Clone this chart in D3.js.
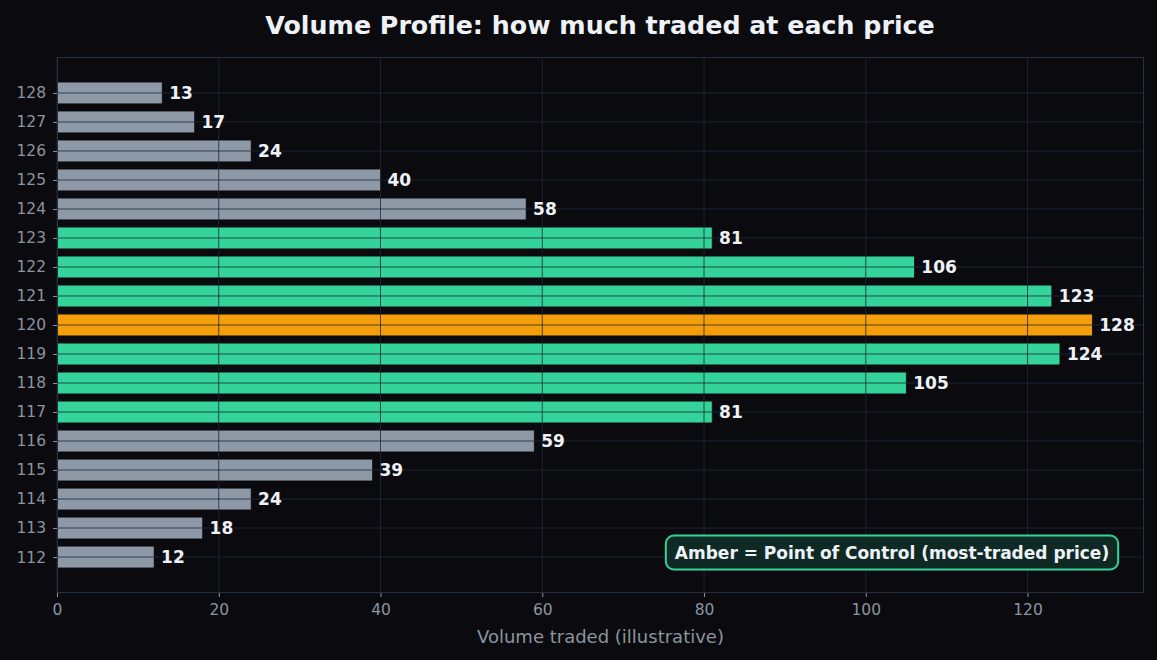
<!DOCTYPE html>
<html>
<head>
<meta charset="utf-8">
<script src="https://cdn.jsdelivr.net/npm/d3@7"></script>
<style>
  body { margin: 0; background: #0b0b0f; }
  svg { display: block; font-family: "DejaVu Sans", sans-serif; }
</style>
</head>
<body>
<svg id="chart" width="1157" height="660"></svg>
<script>
// price levels and the volume traded at each one
const prices = [112, 113, 114, 115, 116, 117, 118, 119, 120, 121, 122, 123, 124, 125, 126, 127, 128];
const volumes = [12, 18, 24, 39, 59, 81, 105, 124, 128, 123, 106, 81, 58, 40, 24, 17, 13];
const xTicks = [0, 20, 40, 60, 80, 100, 120];
const valueArea = [117, 123];   // green zone
const pocPrice = 120;           // amber bar

const W = 1157, H = 660;
const m = { top: 57, right: 13, bottom: 67, left: 57 };

const svg = d3.select("#chart");
svg.append("rect").attr("width", W).attr("height", H).attr("fill", "#0b0b0f");

const x = d3.scaleLinear().domain([0, 134.4]).range([m.left, W - m.right]);
const y = d3.scaleLinear().domain([110.76, 129.24]).range([H - m.bottom, m.top]);
const barH = (y(0) - y(1)) * 0.75;

function colorFor(p) {
    if (p === pocPrice) return "#f59e0b";
    if (p >= valueArea[0] && p <= valueArea[1]) return "#34d399";
    return "#8d99a6";
}

const data = prices.map((p, i) => ({ price: p, vol: volumes[i] }));

// bars
svg.append("g").selectAll("rect")
    .data(data)
    .enter().append("rect")
    .attr("x", x(0))
    .attr("y", d => y(d.price) - barH / 2)
    .attr("width", d => x(d.vol) - x(0))
    .attr("height", barH)
    .attr("fill", d => colorFor(d.price))
    .attr("stroke", "#0b0b0f")
    .attr("stroke-width", 0.6);

// grid on top of the bars (like the original)
const grid = svg.append("g").attr("stroke", "#1e293b").attr("stroke-opacity", 0.8).attr("stroke-width", 1);
grid.selectAll("line.v").data(xTicks).enter().append("line")
    .attr("x1", d => x(d)).attr("x2", d => x(d))
    .attr("y1", m.top).attr("y2", H - m.bottom);
grid.selectAll("line.h").data(prices).enter().append("line")
    .attr("x1", x(0)).attr("x2", W - m.right)
    .attr("y1", d => y(d)).attr("y2", d => y(d));

// value labels
svg.append("g").selectAll("text")
    .data(data)
    .enter().append("text")
    .attr("x", d => x(d.vol) + 7)
    .attr("y", d => y(d.price))
    .attr("dy", "0.36em")
    .attr("fill", "#eef2f7")
    .attr("font-size", 17)
    .attr("font-weight", "bold")
    .text(d => d.vol);

// frame
svg.append("rect")
    .attr("x", x(0) + 0.5).attr("y", m.top + 0.5)
    .attr("width", x(134.4) - x(0) - 1).attr("height", H - m.bottom - m.top - 1)
    .attr("fill", "none").attr("stroke", "#253141").attr("stroke-width", 1);

// axes
const xAxis = svg.append("g")
    .attr("transform", `translate(0,${H - m.bottom})`)
    .call(d3.axisBottom(x).tickValues(xTicks).tickSize(4).tickPadding(7));
const yAxis = svg.append("g")
    .attr("transform", `translate(${m.left},0)`)
    .call(d3.axisLeft(y).tickValues(prices).tickSize(4).tickPadding(7));
[xAxis, yAxis].forEach(a => {
    a.select(".domain").remove();
    a.selectAll(".tick line").attr("stroke", "#8b949e");
    a.selectAll(".tick text").attr("fill", "#8b949e").attr("font-size", 15.5)
        .attr("font-family", "DejaVu Sans, sans-serif");
});

// title
svg.append("text")
    .attr("x", 600).attr("y", 34)
    .attr("text-anchor", "middle")
    .attr("fill", "#eef2f7")
    .attr("font-size", 25.3)
    .attr("font-weight", "bold")
    .text("Volume Profile: how much traded at each price");

// x axis label
svg.append("text")
    .attr("x", (x(0) + W - m.right) / 2).attr("y", 643)
    .attr("text-anchor", "middle")
    .attr("fill", "#8b949e")
    .attr("font-size", 18)
    .text("Volume traded (illustrative)");

// annotation box
const note = svg.append("g");
const noteText = note.append("text")
    .attr("x", 892).attr("y", 553)
    .attr("dy", "0.36em")
    .attr("text-anchor", "middle")
    .attr("fill", "#eef2f7")
    .attr("font-size", 17)
    .attr("font-weight", "bold")
    .text("Amber = Point of Control (most-traded price)");
const bb = noteText.node().getBBox();
note.insert("rect", "text")
    .attr("x", bb.x - 9).attr("y", 535.5)
    .attr("width", bb.width + 18).attr("height", 34)
    .attr("rx", 8)
    .attr("fill", "#0f2a24")
    .attr("stroke", "#34d399")
    .attr("stroke-width", 2);
</script>
</body>
</html>
